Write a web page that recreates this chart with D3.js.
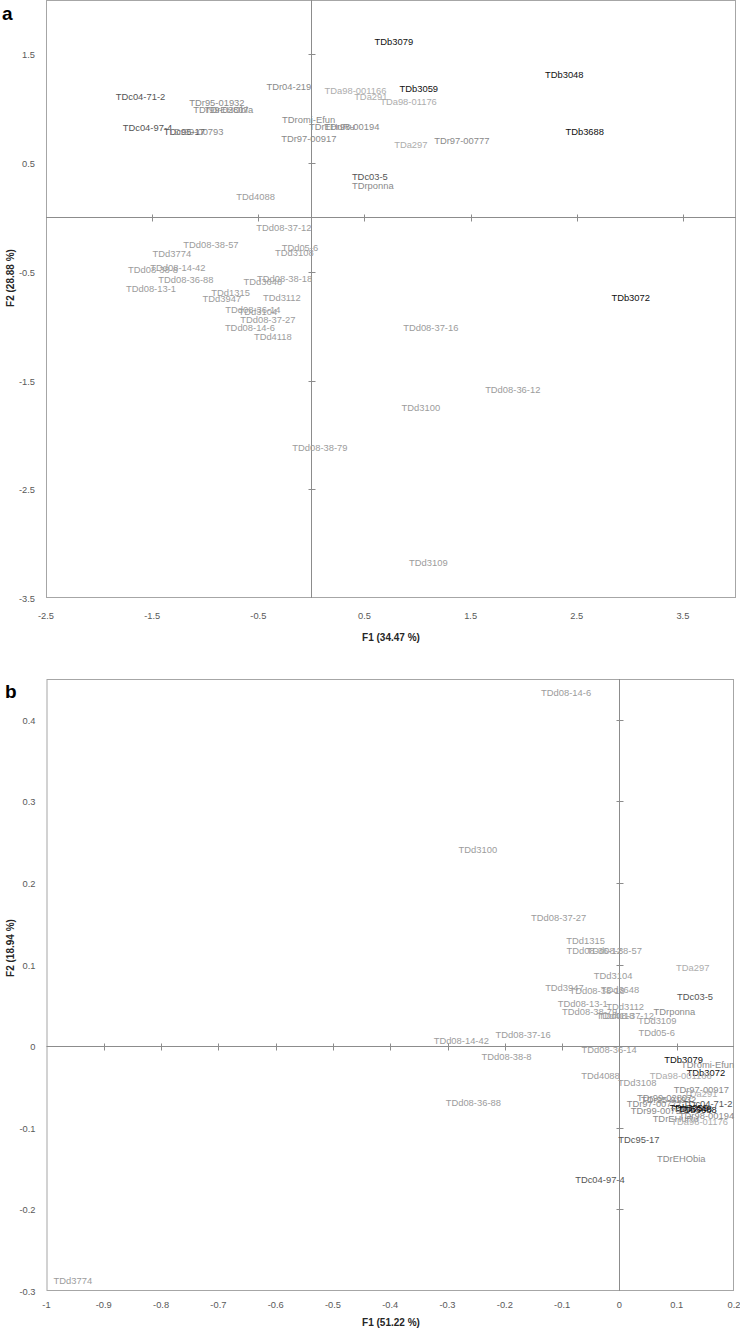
<!DOCTYPE html>
<html><head><meta charset="utf-8">
<script src="https://cdn.jsdelivr.net/npm/d3@7"></script>
<style>
body{margin:0;background:#fff;}
svg{display:block;font-family:"Liberation Sans",Arial,sans-serif;}
</style></head>
<body>
<svg id="chart" width="740" height="1329"></svg>
<script>
// ---------- Panel a data ----------
const namesA = ["TDb3079","TDb3048","TDb3059","TDa98-001166","TDa291","TDa98-01176","TDr04-219","TDc04-71-2",
"TDr95-01932","TDr99-02807","TDrEHObia","TDc04-97-4","TDc95-17","TDr99-00793","TDromi-Efun","TDrEHuRu","TDr98-00194",
"TDr97-00917","TDa297","TDr97-00777","TDb3688","TDc03-5","TDrponna","TDd4088","TDb3072",
"TDd08-37-12","TDd08-38-57","TDd3774","TDd05-6","TDd3108","TDd08-38-8","TDd08-14-42","TDd08-36-88","TDd3648","TDd08-38-18",
"TDd08-13-1","TDd1315","TDd3947","TDd3112","TDd08-36-14","TDd3104","TDd08-37-27","TDd08-14-6","TDd4118",
"TDd08-37-16","TDd08-36-12","TDd3100","TDd08-38-79","TDd3109"];
const f1A = [0.777,2.382,1.012,0.416,0.560,0.915,-0.212,-1.610,
-0.890,-0.852,-0.777,-1.544,-1.196,-1.088,-0.026,0.193,0.381,
-0.024,0.937,1.417,2.575,0.551,0.579,-0.525,3.008,
-0.259,-0.946,-1.314,-0.108,-0.160,-1.492,-1.257,-1.182,-0.457,-0.252,
-1.511,-0.761,-0.843,-0.278,-0.551,-0.504,-0.410,-0.579,-0.363,
1.125,1.897,1.031,0.080,1.102];
const f2A = [1.622,1.319,1.187,1.171,1.110,1.064,1.202,1.113,
1.054,0.996,0.996,0.824,0.794,0.787,0.904,0.840,0.840,
0.727,0.674,0.704,0.794,0.377,0.290,0.189,-0.735,
-0.093,-0.247,-0.327,-0.277,-0.318,-0.477,-0.456,-0.572,-0.587,-0.563,
-0.658,-0.686,-0.741,-0.732,-0.848,-0.864,-0.937,-1.011,-1.091,
-1.014,-1.579,-1.745,-2.119,-3.172];
const xTicksA = [-2.5,-1.5,-0.5,0.5,1.5,2.5,3.5];
const yTicksA = [-3.5,-2.5,-1.5,-0.5,0.5,1.5];

// ---------- Panel b data ----------
const namesB = ["TDd08-14-6","TDd3100","TDd08-37-27","TDd1315","TDd08-36-12","TDd08-38-57","TDd3104","TDa297",
"TDd3947","TDd08-38-18","TDd3648","TDc03-5","TDd08-13-1","TDd08-38-79","TDd3112","TDd4118","TDd08-37-12","TDrponna",
"TDd3109","TDd05-6","TDd08-37-16","TDd08-14-42","TDd08-38-8","TDd08-36-14","TDb3079","TDromi-Efun","TDb3072",
"TDd4088","TDd3108","TDa98-001166","TDr97-00917","TDa291","TDr99-02807","TDr95-01932","TDr97-00777","TDc04-71-2",
"TDb3059","TDb3048","TDb3688","TDr99-00793","TDrEHuRu","TDr98-00194","TDa98-01176","TDc95-17","TDrEHObia",
"TDc04-97-4","TDd08-36-88","TDd3774"];
const f1B = [-0.093,-0.247,-0.106,-0.059,-0.044,-0.009,-0.011,0.128,
-0.096,-0.039,0.001,0.132,-0.064,-0.052,0.010,-0.007,0.012,0.096,
0.066,0.065,-0.168,-0.276,-0.197,-0.018,0.112,0.154,0.151,
-0.033,0.031,0.107,0.143,0.142,0.079,0.086,0.061,0.154,
0.121,0.128,0.136,0.068,0.098,0.152,0.140,0.034,0.108,
-0.034,-0.255,-0.954];
const f2B = [0.434,0.241,0.158,0.130,0.117,0.117,0.087,0.097,
0.072,0.068,0.070,0.061,0.052,0.043,0.049,0.038,0.038,0.043,
0.032,0.017,0.014,0.007,-0.013,-0.004,-0.016,-0.023,-0.032,
-0.036,-0.044,-0.036,-0.053,-0.058,-0.063,-0.065,-0.070,-0.070,
-0.075,-0.076,-0.078,-0.079,-0.088,-0.085,-0.092,-0.114,-0.138,
-0.163,-0.069,-0.287];
const xTicksB = [-1,-0.9,-0.8,-0.7,-0.6,-0.5,-0.4,-0.3,-0.2,-0.1,0,0.1,0.2];
const yTicksB = [-0.3,-0.2,-0.1,0,0.1,0.2,0.3,0.4];

// colour by accession group (third character of the name)
const groupColor = {b:"#111111", c:"#555555", r:"#8a8a8a", a:"#adadad", d:"#9c9c9c"};

const svg = d3.select("#chart");
const fmt = v => String(+v.toFixed(1));

function panel(cfg){
  const g = svg.append("g");
  const x = d3.scaleLinear().domain(cfg.xDomain).range(cfg.xRange);
  const y = d3.scaleLinear().domain(cfg.yDomain).range(cfg.yRange);
  const [x0,x1] = cfg.xRange, [y0,y1] = cfg.yRange;
  g.append("rect").attr("x",x0+0.5).attr("y",y1+0.5).attr("width",x1-x0-1).attr("height",y0-y1-1)
    .attr("fill","none").attr("stroke","#a6a6a6").attr("stroke-width",1);
  const ox = Math.round(x(0))+0.5, oy = Math.round(y(0))+0.5;
  g.append("line").attr("x1",x0).attr("x2",x1).attr("y1",oy).attr("y2",oy).attr("stroke","#8c8c8c");
  g.append("line").attr("x1",ox).attr("x2",ox).attr("y1",y1).attr("y2",y0).attr("stroke","#8c8c8c");
  g.selectAll(".xt").data(cfg.xTicks.filter(v=>v!==0 && v!==cfg.xDomain[0] && v!==cfg.xDomain[1])).join("line")
    .attr("x1",d=>Math.round(x(d))+0.5).attr("x2",d=>Math.round(x(d))+0.5)
    .attr("y1",oy-3).attr("y2",oy+4).attr("stroke","#8c8c8c");
  g.selectAll(".yt").data(cfg.yTicks.filter(v=>v!==0 && v!==cfg.yDomain[0] && v!==cfg.yDomain[1])).join("line")
    .attr("y1",d=>Math.round(y(d))+0.5).attr("y2",d=>Math.round(y(d))+0.5)
    .attr("x1",ox-3).attr("x2",ox+4).attr("stroke","#8c8c8c");
  g.append("g").selectAll("text").data(cfg.xTicks).join("text")
    .attr("x",d=>x(d)).attr("y",cfg.xLabelY).attr("text-anchor","middle").attr("dominant-baseline","central")
    .attr("font-size",9.3).attr("fill","#595959").text(fmt);
  g.append("g").selectAll("text").data(cfg.yTicks).join("text")
    .attr("x",x0-11).attr("y",d=>y(d)+1).attr("text-anchor","end").attr("dominant-baseline","central")
    .attr("font-size",9.3).attr("fill","#595959").text(fmt);
  g.append("text").attr("x",cfg.xTitleX).attr("y",cfg.xTitleY).attr("text-anchor","middle").attr("dominant-baseline","central")
    .attr("font-size",10).attr("font-weight","bold").attr("fill","#262626").text(cfg.xTitle);
  g.append("text").attr("transform",`translate(${cfg.yTitleX},${cfg.yTitleY}) rotate(-90)`)
    .attr("text-anchor","middle").attr("dominant-baseline","central")
    .attr("font-size",10).attr("font-weight","bold").attr("fill","#262626").text(cfg.yTitle);
  g.append("text").attr("x",cfg.letterX).attr("y",cfg.letterY).attr("font-size",19).attr("font-weight","bold")
    .attr("fill","#000").text(cfg.letter);
  const pts = cfg.names.map((n,i)=>({n, a:cfg.f1[i], b:cfg.f2[i]}));
  g.append("g").selectAll("text").data(pts).join("text")
    .attr("x",d=>x(d.a)).attr("y",d=>y(d.b)).attr("text-anchor","middle").attr("dominant-baseline","central")
    .attr("font-size",9.4).attr("fill",d=>groupColor[d.n[2]]||"#999").text(d=>d.n);
}

panel({names:namesA,f1:f1A,f2:f2A,xTicks:xTicksA,yTicks:yTicksA,
  xDomain:[-2.5,4],yDomain:[-3.5,2],xRange:[46,736],yRange:[598,0],
  xLabelY:616,xTitle:"F1 (34.47 %)",xTitleX:391,xTitleY:637,
  yTitle:"F2 (28.88 %)",yTitleX:10,yTitleY:278,letter:"a",letterX:2,letterY:20});

panel({names:namesB,f1:f1B,f2:f2B,xTicks:xTicksB,yTicks:yTicksB,
  xDomain:[-1,0.2],yDomain:[-0.3,0.45],xRange:[46.5,734],yRange:[1291,679],
  xLabelY:1305,xTitle:"F1 (51.22 %)",xTitleX:391,xTitleY:1322,
  yTitle:"F2 (18.94 %)",yTitleX:10,yTitleY:948,letter:"b",letterX:5,letterY:698});
</script>
</body></html>
